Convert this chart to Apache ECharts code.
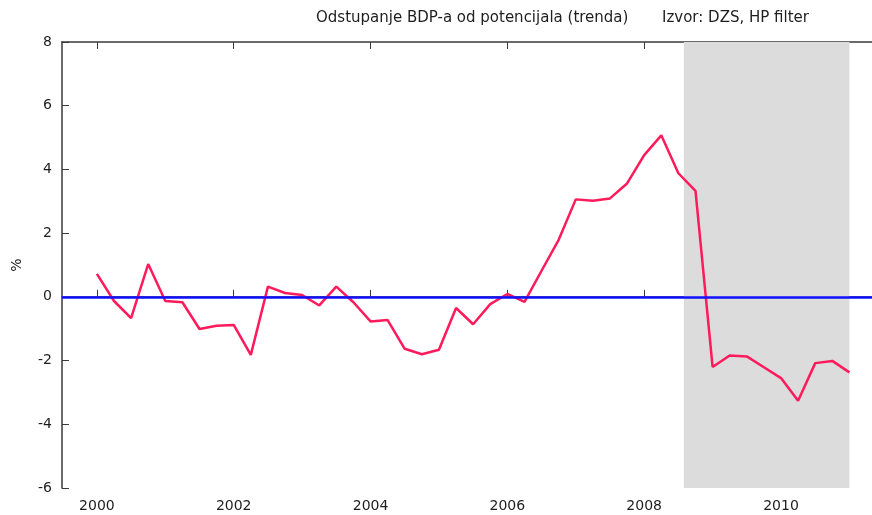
<!DOCTYPE html>
<html>
<head>
<meta charset="utf-8">
<title>Odstupanje BDP-a od potencijala</title>
<script src="https://cdn.jsdelivr.net/npm/echarts@6/dist/echarts.min.js"></script>
<style>
    html,body{margin:0;padding:0;background:#fff;}
    #main{width:872px;height:515px;}
</style>
</head>
<body>
<div id="main"></div>
<script>
// kvartali od 2000Q1 do 2011Q1
var startYear = 2000;
var gap = [0.72, -0.13, -0.67, 1.03,
    -0.13, -0.17, -1.01, -0.91,
    -0.88, -1.82, 0.32, 0.12,
    0.06, -0.27, 0.32, -0.17,
    -0.77, -0.73, -1.63, -1.80,
    -1.66, -0.35, -0.86, -0.23,
    0.09, -0.16, 0.82, 1.79,
    3.06, 3.02, 3.09, 3.56,
    4.45, 5.07, 3.88, 3.33,
    -2.20, -1.84, -1.87, -2.21,
    -2.55, -3.26, -2.08, -2.01,
    -2.37];
var yearTicks = [2000, 2002, 2004, 2006, 2008, 2010];
var recession = [2008.58, 2011.0];   // siva zona
var titleText = "Odstupanje BDP-a od potencijala (trenda)";
var sourceText = "Izvor: DZS, HP filter";

var points = [];
for (var i = 0; i < gap.length; i++) {
    points.push([startYear + i * 0.25, gap[i]]);
}

var font = "DejaVu Sans";
var axisCol = "#3a3a3a";
var textCol = "#1e1e1e";

var myChart = echarts.init(document.getElementById('main'));
myChart.setOption({
    animation: false,
    title: [
        {text: titleText, left: 311, top: 6, textStyle: {fontFamily: font, fontSize: 15, fontWeight: "normal", color: textCol}},
        {text: sourceText, left: 657, top: 6, textStyle: {fontFamily: font, fontSize: 15, fontWeight: "normal", color: textCol}}
    ],
    grid: {left: 62, top: 42, right: 0, bottom: 27, outerBoundsMode: "none", containLabel: false},
    xAxis: [{
        type: "value", min: 1999.49, max: 2011.33,
        axisLine: {lineStyle: {color: axisCol, width: 1.5}},
        axisTick: {inside: true, length: 7, customValues: yearTicks, lineStyle: {color: axisCol}},
        axisLabel: {customValues: yearTicks, margin: 11, fontFamily: font, fontSize: 14, color: textCol,
            formatter: function (v) { return String(v); }},
        splitLine: {show: false}
    }, {
        type: "value", position: "top", min: 1999.49, max: 2011.33,
        axisLine: {lineStyle: {color: axisCol, width: 1.5}},
        axisTick: {inside: true, length: 7, customValues: yearTicks, lineStyle: {color: axisCol}},
        axisLabel: {show: false},
        splitLine: {show: false}
    }],
    yAxis: {
        type: "value", min: -6, max: 8, interval: 2,
        name: "%", nameLocation: "middle", nameRotate: 90, nameGap: 38,
        nameTextStyle: {fontFamily: font, fontSize: 14, color: textCol},
        axisLine: {show: true, lineStyle: {color: axisCol, width: 1.5}},
        axisTick: {show: true, inside: true, length: 7, lineStyle: {color: axisCol}},
        axisLabel: {margin: 10, fontFamily: font, fontSize: 14, color: textCol},
        splitLine: {show: false}
    },
    series: [{
        type: "line",
        data: points,
        symbol: "none",
        lineStyle: {color: "#ff1a5c", width: 2.5},
        markArea: {
            silent: true,
            itemStyle: {color: "#dcdcdc"},
            data: [[{xAxis: recession[0]}, {xAxis: recession[1]}]]
        },
        markLine: {
            silent: true,
            symbol: "none",
            label: {show: false},
            lineStyle: {color: "#1010ff", width: 2.5, type: "solid"},
            data: [{yAxis: 0}]
        },
        z: 3
    }]
});
</script>
</body>
</html>
